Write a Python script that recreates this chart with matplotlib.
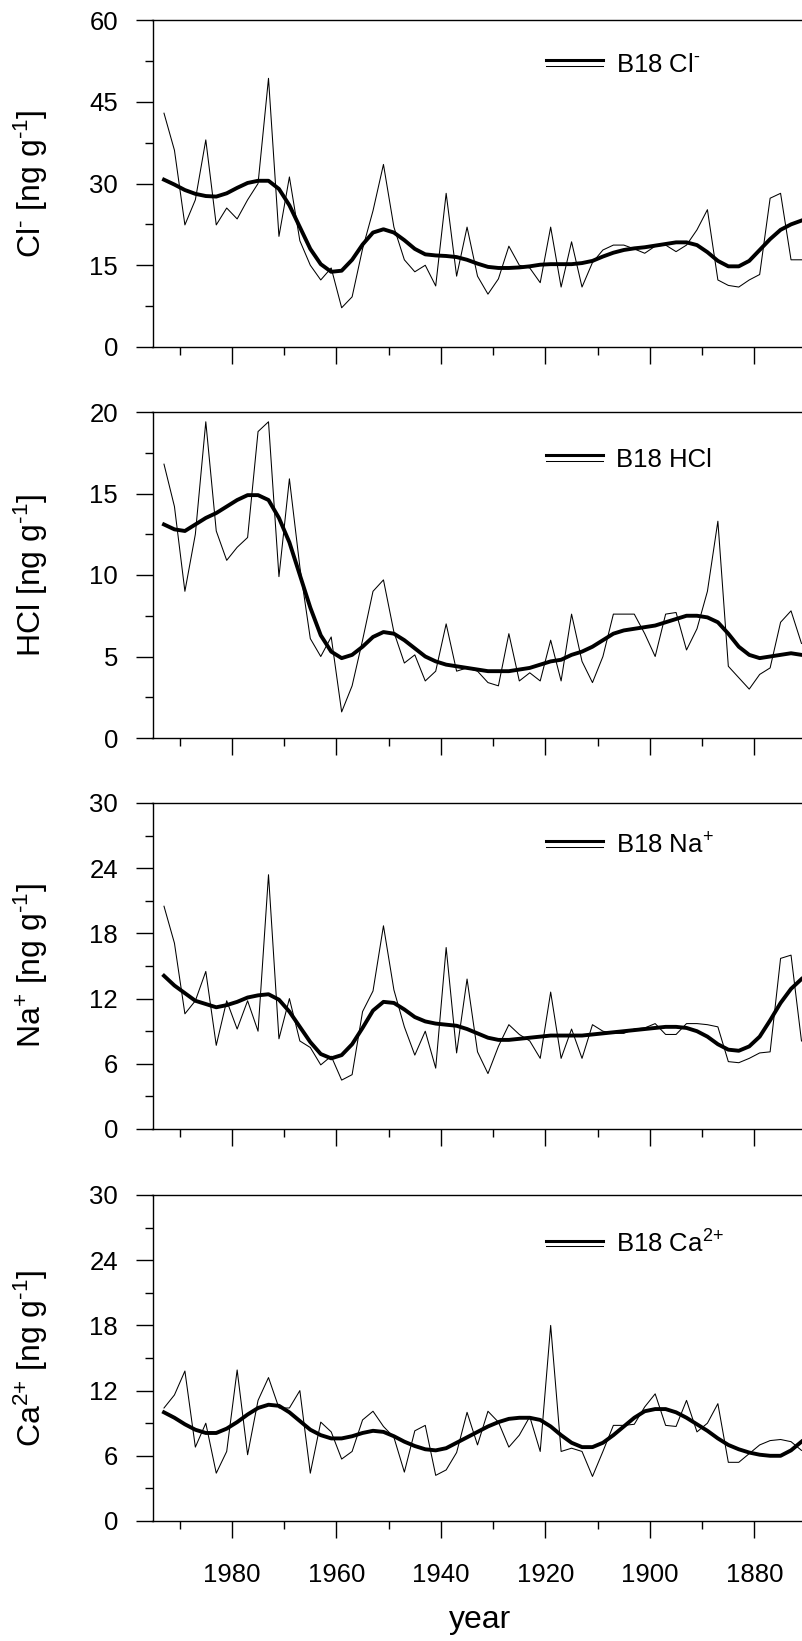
import matplotlib
matplotlib.use("Agg")
import matplotlib.pyplot as plt
from matplotlib.lines import Line2D
from matplotlib.legend_handler import HandlerBase
from matplotlib.ticker import MultipleLocator

# biennial samples, B18 ice core
years = list(range(1993, 1869, -2))

cl_raw = [42.9, 36.1, 22.4, 27.0, 38.0, 22.4, 25.5, 23.5, 27.0, 30.0,
          49.3, 20.3, 31.2, 19.5, 15.0, 12.3, 14.5, 7.2, 9.2, 18.0,
          25.0, 33.5, 22.0, 16.0, 13.8, 15.0, 11.2, 28.2, 13.0, 22.0,
          13.0, 9.7, 12.5, 18.5, 15.0, 14.5, 11.8, 22.0, 11.0, 19.3,
          11.0, 15.5, 17.8, 18.7, 18.7, 18.0, 17.2, 18.5, 18.7, 17.5,
          18.7, 21.5, 25.2, 12.3, 11.3, 11.0, 12.3, 13.3, 27.3, 28.2,
          16.0, 16.0]
cl_smooth = [30.7, 29.8, 28.8, 28.1, 27.7, 27.6, 28.2, 29.2, 30.1, 30.5,
             30.5, 29.0, 26.0, 22.0, 18.0, 15.2, 13.8, 14.0, 16.0, 18.8,
             21.0, 21.6, 21.0, 19.6, 18.0, 17.0, 16.8, 16.7, 16.5, 16.0,
             15.3, 14.7, 14.5, 14.5, 14.6, 14.8, 15.1, 15.2, 15.2, 15.2,
             15.4, 15.8, 16.6, 17.3, 17.8, 18.1, 18.3, 18.6, 18.9, 19.2,
             19.2, 18.7, 17.4, 15.8, 14.8, 14.8, 15.8, 17.8, 19.8, 21.5,
             22.5, 23.2]

hcl_raw = [16.8, 14.2, 9.0, 12.5, 19.4, 12.7, 10.9, 11.7, 12.3, 18.8,
           19.4, 9.9, 15.9, 10.5, 6.1, 5.0, 6.2, 1.6, 3.2, 6.0,
           9.0, 9.7, 6.5, 4.6, 5.1, 3.5, 4.1, 7.0, 4.1, 4.3,
           4.1, 3.4, 3.2, 6.4, 3.5, 4.0, 3.5, 6.0, 3.5, 7.6,
           4.7, 3.4, 5.0, 7.6, 7.6, 7.6, 6.4, 5.0, 7.6, 7.7,
           5.4, 6.7, 9.0, 13.3, 4.4, 3.7, 3.0, 3.9, 4.3, 7.1,
           7.8, 5.8]
hcl_smooth = [13.1, 12.8, 12.7, 13.1, 13.5, 13.8, 14.2, 14.6, 14.9, 14.9,
              14.6, 13.5, 12.0, 10.0, 8.0, 6.3, 5.3, 4.9, 5.1, 5.6,
              6.2, 6.5, 6.4, 6.0, 5.5, 5.0, 4.7, 4.5, 4.4, 4.3,
              4.2, 4.1, 4.1, 4.1, 4.2, 4.3, 4.5, 4.7, 4.8, 5.1,
              5.3, 5.6, 6.0, 6.4, 6.6, 6.7, 6.8, 6.9, 7.1, 7.3,
              7.5, 7.5, 7.4, 7.1, 6.4, 5.6, 5.1, 4.9, 5.0, 5.1,
              5.2, 5.1]

na_raw = [20.5, 17.1, 10.6, 11.8, 14.5, 7.7, 11.8, 9.2, 11.8, 9.0,
          23.4, 8.3, 12.0, 8.1, 7.5, 5.9, 6.7, 4.5, 5.0, 10.8,
          12.7, 18.7, 12.8, 9.4, 6.8, 9.0, 5.6, 16.7, 7.0, 13.8,
          7.1, 5.1, 7.6, 9.6, 8.7, 8.1, 6.5, 12.6, 6.5, 9.2,
          6.5, 9.6, 9.0, 8.8, 8.8, 9.2, 9.3, 9.7, 8.7, 8.7,
          9.7, 9.7, 9.6, 9.4, 6.2, 6.1, 6.5, 7.0, 7.1, 15.7,
          16.0, 8.1]
na_smooth = [14.1, 13.2, 12.5, 11.8, 11.5, 11.2, 11.4, 11.7, 12.1, 12.3,
             12.4, 11.9, 10.8, 9.4, 8.0, 6.9, 6.5, 6.8, 7.8, 9.3,
             10.9, 11.7, 11.6, 11.0, 10.3, 9.9, 9.7, 9.6, 9.5, 9.2,
             8.8, 8.4, 8.2, 8.2, 8.3, 8.4, 8.5, 8.6, 8.6, 8.6,
             8.6, 8.7, 8.8, 8.9, 9.0, 9.1, 9.2, 9.3, 9.4, 9.4,
             9.3, 9.0, 8.5, 7.8, 7.3, 7.2, 7.6, 8.5, 10.0, 11.6,
             12.9, 13.8]

ca_raw = [10.4, 11.6, 13.8, 6.8, 9.0, 4.4, 6.4, 13.9, 6.1, 11.1,
          13.2, 10.4, 10.4, 12.0, 4.4, 9.1, 8.2, 5.7, 6.4, 9.3,
          10.1, 8.7, 7.7, 4.5, 8.3, 8.8, 4.2, 4.7, 6.3, 10.0,
          7.0, 10.1, 9.1, 6.8, 7.9, 9.6, 6.4, 18.0, 6.4, 6.7,
          6.4, 4.1, 6.4, 8.8, 8.8, 8.9, 10.5, 11.7, 8.8, 8.7,
          11.1, 8.2, 9.0, 10.8, 5.4, 5.4, 6.2, 7.0, 7.4, 7.5,
          7.3, 6.5]
ca_smooth = [10.0, 9.5, 8.9, 8.4, 8.1, 8.1, 8.5, 9.1, 9.8, 10.4,
             10.7, 10.6, 10.0, 9.2, 8.4, 7.9, 7.6, 7.6, 7.8, 8.1,
             8.3, 8.2, 7.8, 7.3, 6.9, 6.6, 6.5, 6.7, 7.2, 7.7,
             8.2, 8.7, 9.1, 9.4, 9.5, 9.5, 9.3, 8.7, 7.9, 7.2,
             6.8, 6.8, 7.2, 7.9, 8.7, 9.5, 10.1, 10.3, 10.3, 10.0,
             9.5, 8.9, 8.3, 7.6, 7.0, 6.6, 6.3, 6.1, 6.0, 6.0,
             6.5, 7.3]

ylabels = [r"Cl$^{\text{-}}$ [ng g$^{\text{-1}}$]",
           r"HCl [ng g$^{\text{-1}}$]",
           r"Na$^{\text{+}}$ [ng g$^{\text{-1}}$]",
           r"Ca$^{\text{2+}}$ [ng g$^{\text{-1}}$]"]
legend_labels = [r"B18 Cl$^{\text{-}}$", "B18 HCl",
                 r"B18 Na$^{\text{+}}$", r"B18 Ca$^{\text{2+}}$"]
ymax = [60, 20, 30, 30]
ystep = [15, 5, 6, 6]
legend_y = [0.862, 0.852, 0.870, 0.850]

plt.rcParams["font.family"] = ["Liberation Sans", "DejaVu Sans"]
plt.rcParams["mathtext.fontset"] = "custom"
plt.rcParams["mathtext.rm"] = "Liberation Sans"
plt.rcParams["mathtext.sf"] = "Liberation Sans"
plt.rcParams["mathtext.it"] = "Liberation Sans"


class DoubleLine(HandlerBase):
    # thick smoothed line above the thin annual line
    def create_artists(self, legend, orig_handle, xdescent, ydescent,
                       width, height, fontsize, trans):
        y = height / 2 - ydescent
        thick = Line2D([-xdescent, width - xdescent], [y + 2, y + 2],
                       color="black", lw=2.2, transform=trans)
        thin = Line2D([-xdescent, width - xdescent], [y - 2.1, y - 2.1],
                      color="black", lw=0.75, transform=trans)
        return [thick, thin]


fig = plt.figure(figsize=(8.02, 16.41), dpi=100)
# panel boxes in pixels: top, bottom
boxes = [(20, 347), (412, 738), (803, 1129), (1195, 1521)]
left = 152.5 / 802

series = [(cl_raw, cl_smooth), (hcl_raw, hcl_smooth),
          (na_raw, na_smooth), (ca_raw, ca_smooth)]

for i, ((raw, smooth), (top, bottom)) in enumerate(zip(series, boxes)):
    ax = fig.add_axes([left, 1 - bottom / 1641, 1 - left,
                       (bottom - top) / 1641])
    ax.plot(years, raw, color="black", lw=0.75)
    ax.plot(years, smooth, color="black", lw=2.8)
    ax.set_xlim(1995.2, 1870.9)
    ax.set_ylim(0, ymax[i])
    ax.spines["right"].set_visible(False)
    for s in ["left", "top", "bottom"]:
        ax.spines[s].set_linewidth(1.0)
    ax.yaxis.set_major_locator(MultipleLocator(ystep[i]))
    ax.yaxis.set_minor_locator(MultipleLocator(ystep[i] / 2))
    ax.xaxis.set_major_locator(MultipleLocator(20))
    ax.xaxis.set_minor_locator(MultipleLocator(10))
    ax.tick_params(which="major", direction="out", length=11.9, width=1.0,
                   labelsize=18.5, pad=13)
    ax.tick_params(which="minor", direction="out", length=6.1, width=1.0)
    ax.tick_params(axis="x", which="major", pad=18)
    if i < 3:
        ax.set_xticklabels([])
    else:
        ax.set_xlabel("year", fontsize=23)
        ax.xaxis.label.set_va("center")
        ax.xaxis.set_label_coords(0.505, -0.304)
    ax.set_ylabel(ylabels[i], fontsize=23)
    ax.yaxis.set_label_coords(-0.158, 0.5)
    ax.legend([object()], [legend_labels[i]], handler_map={object: DoubleLine()},
              loc="center left", bbox_to_anchor=(0.606, legend_y[i]),
              frameon=False, borderpad=0, borderaxespad=0,
              handlelength=2.22, handletextpad=0.5, fontsize=18.5)

fig.savefig("out.png", dpi=100)
